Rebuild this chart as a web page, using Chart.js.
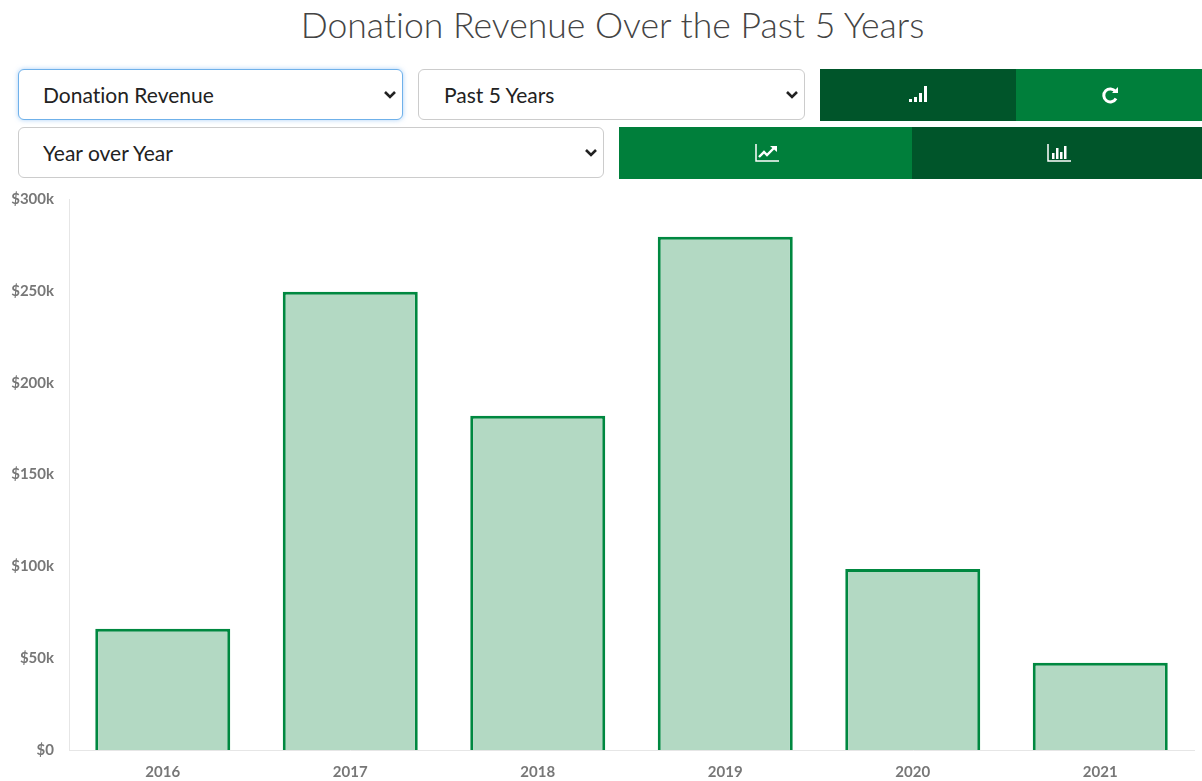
<!DOCTYPE html>
<html>
<head>
<meta charset="utf-8">
<title>Donation Revenue</title>
<script src="https://cdn.jsdelivr.net/npm/chart.js@4"></script>
<style>
  html, body { margin: 0; padding: 0; background: #fff; overflow: hidden; }
  body { width: 1202px; height: 781px; position: relative; font-family: Lato, sans-serif; font-variant-ligatures: none; }
  h1 { position: absolute; left: 0; top: 3px; width: 1225px; margin: 0; text-align: center;
       font-size: 35.6px; line-height: 44px; font-weight: 300; color: #444; }
  select { position: absolute; height: 51px; box-sizing: border-box; margin: 0; padding: 0 0 0 24px;
       font: 400 21px Lato, sans-serif; font-variant-ligatures: none; color: #222; background-color: #fff; border: 1px solid #ccc;
       border-radius: 6px; appearance: none; -webkit-appearance: none; outline: none;
       background-image: url("data:image/svg+xml,%3Csvg xmlns='http://www.w3.org/2000/svg' width='14' height='10'%3E%3Cpath d='M2 2l5 5 5-5' fill='none' stroke='%23222' stroke-width='2.6'/%3E%3C/svg%3E");
       background-repeat: no-repeat; background-position: right 5px center; }
  select.focus { border: 1px solid #6fb1ea; box-shadow: 0 0 5px rgba(100,170,240,.55); }
  .btn { position: absolute; height: 52px; display: flex; align-items: center; justify-content: center; }
  .dark { background: #00552a; }
  .mid { background: #007f3b; }
  #wrap { position: absolute; left: 0; top: 175px; width: 1202px; height: 606px; pointer-events: none; }
</style>
</head>
<body>
<h1>Donation Revenue Over the Past 5 Years</h1>

<select class="focus" style="left:18px;top:69px;width:385px"><option>Donation Revenue</option></select>
<select style="left:418px;top:69px;width:387px;padding-left:25px"><option>Past 5 Years</option></select>
<select style="left:18px;top:127px;width:586px"><option>Year over Year</option></select>

<div class="btn dark" style="left:820px;top:69px;width:196px">
  <svg width="22" height="20" fill="#fff" style="margin:-2px 0 0 2px"><rect x="1" y="15" width="3" height="3"/><rect x="6" y="13" width="3" height="5"/><rect x="11" y="9" width="3" height="9"/><rect x="16" y="2" width="3" height="16"/></svg>
</div>
<div class="btn mid" style="left:1016px;top:69px;width:186px">
  <svg width="20" height="20" fill="none" stroke="#fff" stroke-width="3" style="margin-left:3px"><path d="M15 13.5a6.5 6.5 0 1 1 -.5-7"/><path d="M17 2v6h-6z" fill="#fff" stroke="none"/></svg>
</div>
<div class="btn mid" style="left:619px;top:127px;width:293px">
  <svg width="24" height="20" fill="none" stroke="#fff" style="margin-left:2px"><path d="M1 1v17h23" stroke-width="1.5"/><path d="M4 14l5-5 3 3 7-7" stroke-width="2.4"/><path d="M15 3h7v6z" fill="#fff" stroke="none"/></svg>
</div>
<div class="btn dark" style="left:912px;top:127px;width:290px">
  <svg width="24" height="20" fill="#fff" style="margin-left:4px"><path d="M1 1v17h23" fill="none" stroke="#fff" stroke-width="1.5"/><rect x="5" y="10" width="2.5" height="6"/><rect x="9" y="5" width="2.5" height="11"/><rect x="13" y="9" width="2.5" height="7"/><rect x="17" y="3" width="2.5" height="13"/></svg>
</div>

<div id="wrap"><canvas id="bar-chart" width="1202" height="606"></canvas></div>

<script>
const years = ["2016", "2017", "2018", "2019", "2020", "2021"];
const revenue = [66000, 249500, 182000, 279500, 98500, 47500];

let chart = new Chart(document.getElementById("bar-chart"), {
  type: 'bar',
  data: {
    labels: years,
    datasets: [{
      label: "Donation Revenue",
      data: revenue,
      backgroundColor: "#b3d9c3",
      borderColor: "#008840",
      borderWidth: { top: 3, left: 3, right: 3, bottom: 0 },
      barPercentage: 0.8,
      categoryPercentage: 0.9
    }]
  },
  options: {
    responsive: false,
    animation: false,
    layout: { padding: { top: 3, right: 8, left: 0, bottom: 0 } },
    plugins: { legend: { display: false }, title: { display: false }, tooltip: { enabled: false } },
    scales: {
      x: {
        afterFit: function(axis) { axis.height = 31; },
        grid: { display: false, drawTicks: false },
        border: { display: true, color: "#e6e6e6", width: 1 },
        ticks: { color: "#777", padding: 13, font: { family: "Lato", size: 15, weight: "bold" } }
      },
      y: {
        min: 0,
        max: 300000,
        afterFit: function(axis) { axis.width = 69; },
        grid: { display: false, drawTicks: false },
        border: { display: true, color: "#e6e6e6", width: 1 },
        ticks: {
          stepSize: 50000,
          color: "#777",
          padding: 15,
          font: { family: "Lato", size: 15, weight: "bold" },
          callback: function(v) { return v == 0 ? "$0" : "$" + (v / 1000) + "k"; }
        }
      }
    }
  }
});
</script>
</body>
</html>
